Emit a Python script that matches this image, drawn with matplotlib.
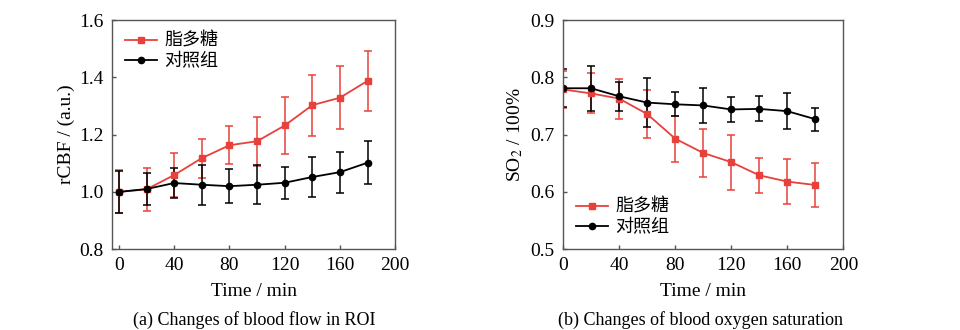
import numpy as np
import matplotlib
matplotlib.use("Agg")
import matplotlib.pyplot as plt

plt.rcParams['font.family'] = ['Liberation Serif', 'Noto Sans CJK SC']
plt.rcParams['mathtext.fontset'] = 'stix'

# time points (min)
t = [0, 20, 40, 60, 80, 100, 120, 140, 160, 180]

# (a) rCBF
cbf_lps = [1.0, 1.009, 1.059, 1.118, 1.163, 1.177, 1.232, 1.303, 1.329, 1.388]
cbf_lps_err = [0.075, 0.075, 0.077, 0.068, 0.067, 0.086, 0.1, 0.107, 0.11, 0.105]
cbf_ctl = [1.0, 1.01, 1.031, 1.025, 1.02, 1.025, 1.032, 1.052, 1.069, 1.102]
cbf_ctl_err = [0.073, 0.057, 0.052, 0.07, 0.06, 0.068, 0.056, 0.07, 0.072, 0.075]

# (b) SO2
so2_lps = [0.779, 0.772, 0.763, 0.736, 0.693, 0.668, 0.652, 0.629, 0.618, 0.612]
so2_lps_err = [0.033, 0.035, 0.035, 0.042, 0.04, 0.042, 0.048, 0.031, 0.04, 0.039]
so2_ctl = [0.781, 0.781, 0.767, 0.756, 0.753, 0.751, 0.744, 0.745, 0.741, 0.727]
so2_ctl_err = [0.033, 0.039, 0.025, 0.043, 0.021, 0.031, 0.022, 0.022, 0.032, 0.02]

labels = ['脂多糖', '对照组']
red = '#e8413c'
spine_col = '#555555'

fig = plt.figure(figsize=(9.6, 3.3), dpi=100)
ax1 = fig.add_axes([0.1167, 0.245, 0.295, 0.694])
ax2 = fig.add_axes([0.5865, 0.245, 0.292, 0.694])


def draw(ax, lps, lps_err, ctl, ctl_err, loc):
    c1 = ax.errorbar(t, lps, yerr=lps_err, color=red, marker='s', ms=4.5, lw=1.3,
                     elinewidth=1.1, capsize=3, capthick=1.1)
    c2 = ax.errorbar(t, ctl, yerr=ctl_err, color='black', marker='o', ms=4.5, lw=1.3,
                     elinewidth=1.1, capsize=3, capthick=1.1)
    for s in ax.spines.values():
        s.set_color(spine_col)
        s.set_linewidth(1.0)
    ax.tick_params(direction='in', length=3, width=1, color=spine_col,
                   labelsize=14, top=False, right=False, pad=6)
    ax.set_xticks([0, 40, 80, 120, 160, 200])
    ax.set_xlabel('Time / min', fontsize=14, labelpad=6)
    ax.legend([c1[0], c2[0]], labels, loc=loc, frameon=False, fontsize=13,
              handlelength=1.8, borderaxespad=0.3, labelspacing=0.2,
              handletextpad=0.4)


draw(ax1, cbf_lps, cbf_lps_err, cbf_ctl, cbf_ctl_err, 'upper left')
ax1.set_xlim(-5, 200)
ax1.set_ylim(0.8, 1.6)
ax1.set_yticks([0.8, 1.0, 1.2, 1.4, 1.6])
ax1.set_ylabel('rCBF / (a.u.)', fontsize=14, labelpad=3)

draw(ax2, so2_lps, so2_lps_err, so2_ctl, so2_ctl_err, 'lower left')
ax2.set_xlim(0, 200)
ax2.set_ylim(0.5, 0.9)
ax2.set_yticks([0.5, 0.6, 0.7, 0.8, 0.9])
ax2.set_ylabel('SO$_2$ / 100%', fontsize=14, labelpad=4)

fig.text(0.265, 0.03, '(a) Changes of blood flow in ROI', ha='center', va='center', fontsize=13)
fig.text(0.73, 0.03, '(b) Changes of blood oxygen saturation', ha='center', va='center', fontsize=13)

fig.savefig('out.png', dpi=100)
